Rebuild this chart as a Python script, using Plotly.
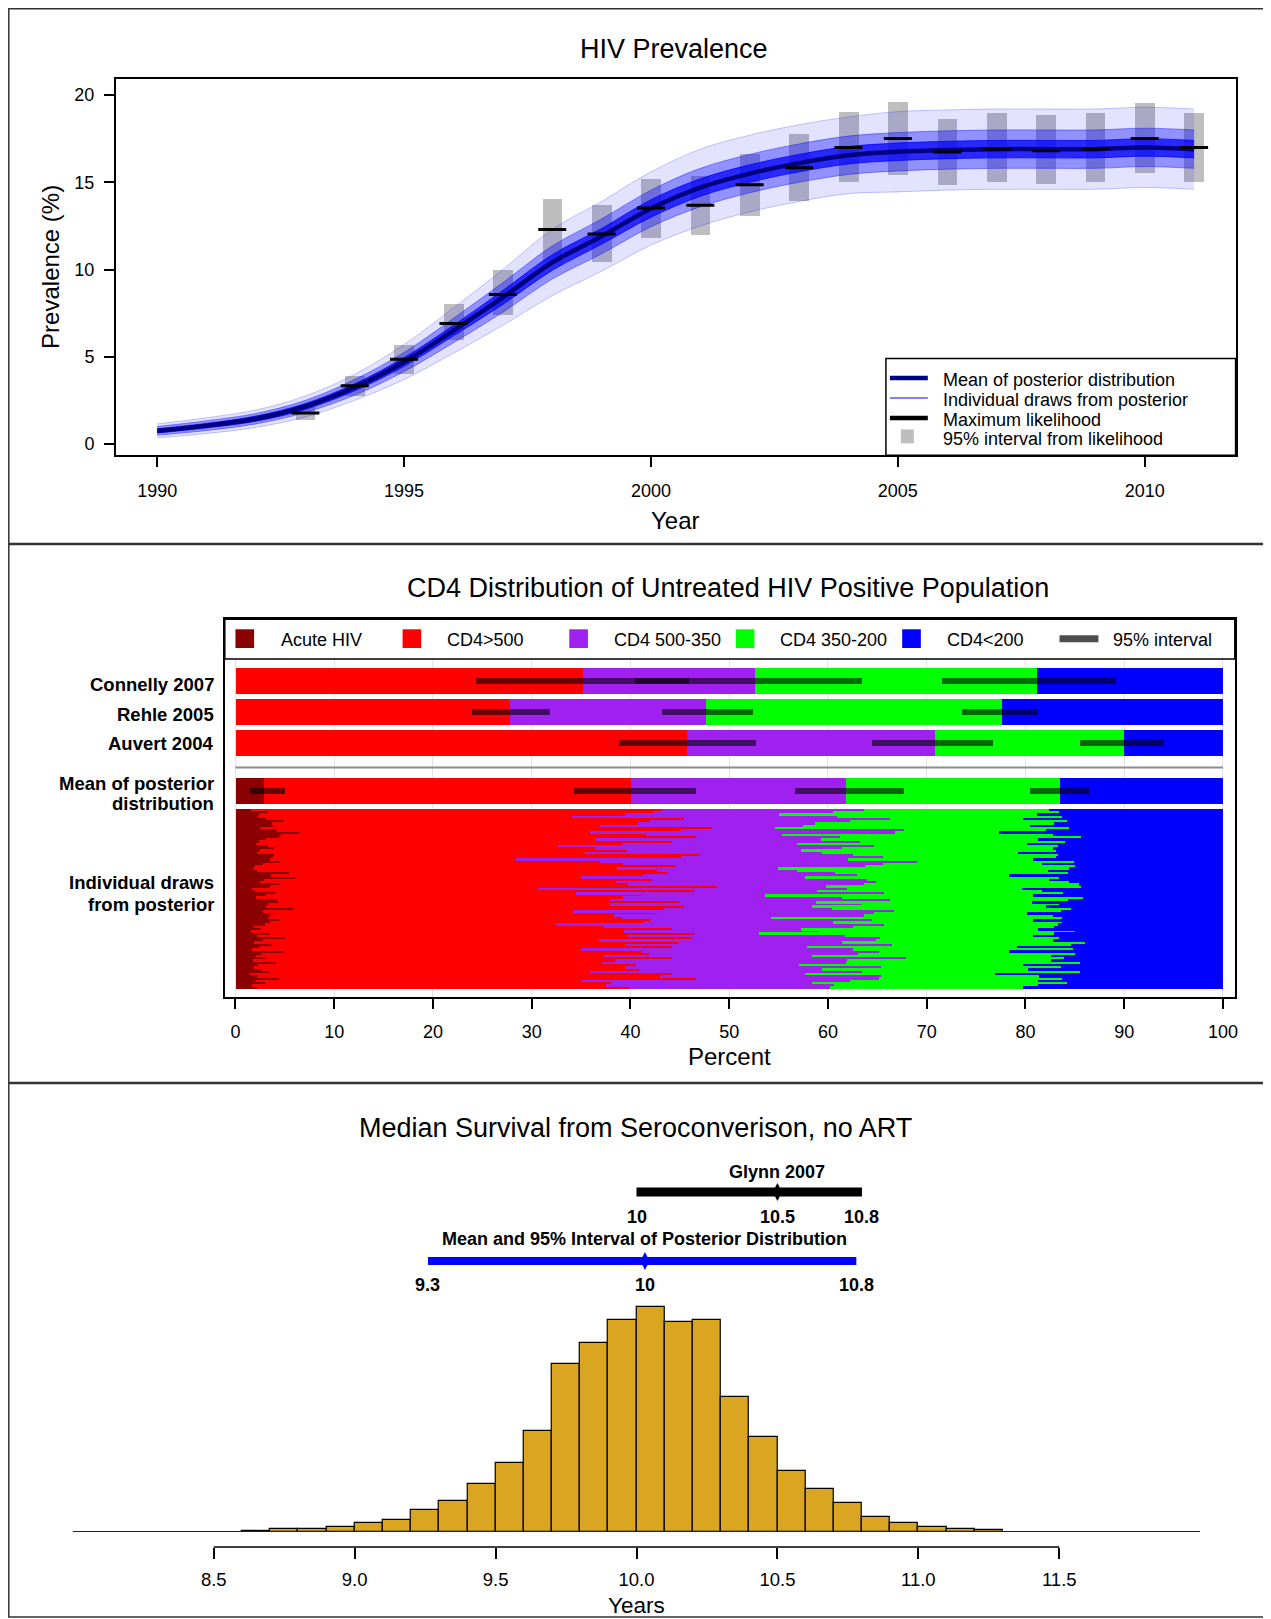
import plotly.graph_objects as go

# page offset (browser body margin) and figure size
OX, OY = 8, 8
W, H = 1263, 1611
FONT = "Liberation Sans, Arial, sans-serif"


def px(x):
    return (x - OX) / W


def py(y):
    return 1 - (y - OY) / H


# ---------------- Panel 1: HIV prevalence ----------------
years = list(range(1990, 2012))
post_mean = [0.75, 1.05, 1.45, 2.15, 3.25, 4.7, 6.5, 8.4, 10.4, 11.9, 13.5, 14.7,
             15.5, 16.1, 16.55, 16.75, 16.85, 16.9, 16.9, 16.9, 17.0, 16.9]
draws_outer_lo = [0.35, 0.6, 0.95, 1.55, 2.5, 3.7, 5.2, 6.8, 8.5, 9.9, 11.4, 12.5,
                  13.3, 13.9, 14.35, 14.45, 14.55, 14.6, 14.6, 14.6, 14.7, 14.6]
draws_outer_hi = [1.15, 1.5, 1.95, 2.75, 4.0, 5.7, 7.8, 10.0, 12.3, 13.9, 15.6, 16.9,
                  17.7, 18.3, 18.75, 19.05, 19.15, 19.2, 19.2, 19.2, 19.3, 19.2]
draws_mid_lo = [0.5, 0.77, 1.15, 1.8, 2.8, 4.15, 5.8, 7.55, 9.45, 10.9, 12.45, 13.6,
                14.4, 15.0, 15.45, 15.65, 15.75, 15.8, 15.8, 15.8, 15.9, 15.8]
draws_mid_hi = [1.0, 1.33, 1.75, 2.5, 3.7, 5.25, 7.2, 9.25, 11.35, 12.9, 14.55, 15.8,
                16.6, 17.2, 17.65, 17.85, 17.95, 18.0, 18.0, 18.0, 18.1, 18.0]
draws_inner_lo = [0.63, 0.92, 1.3, 1.98, 3.05, 4.45, 6.2, 8.0, 9.95, 11.45, 13.0, 14.2,
                  15.0, 15.6, 16.05, 16.25, 16.35, 16.4, 16.4, 16.4, 16.5, 16.4]
draws_inner_hi = [0.87, 1.18, 1.6, 2.32, 3.45, 4.95, 6.8, 8.8, 10.85, 12.35, 14.0, 15.2,
                  16.0, 16.6, 17.05, 17.25, 17.35, 17.4, 17.4, 17.4, 17.5, 17.4]

obs_years = [1993, 1994, 1995, 1996, 1997, 1998, 1999, 2000, 2001, 2002, 2003, 2004,
             2005, 2006, 2007, 2008, 2009, 2010, 2011]
obs_ml = [1.78, 3.33, 4.86, 6.9, 8.57, 12.29, 12.03, 13.53, 13.69, 14.86, 15.84, 17.0,
          17.51, 16.73, 16.91, 16.81, 16.91, 17.51, 17.0]
obs_lo = [1.42, 2.79, 4.05, 5.96, 7.41, 10.48, 10.46, 11.83, 12.03, 13.09, 13.97, 15.06,
          15.46, 14.86, 15.04, 14.94, 15.04, 15.54, 15.04]
obs_hi = [2.14, 3.95, 5.70, 8.05, 10.02, 14.06, 13.75, 15.24, 15.4, 16.67, 17.79, 19.05,
          19.64, 18.68, 18.98, 18.88, 18.98, 19.56, 18.98]

prev_legend = ["Mean of posterior distribution", "Individual draws from posterior",
               "Maximum likelihood", "95% interval from likelihood"]

# ---------------- Panel 2: CD4 distribution ----------------
cd4_names = ["Acute HIV", "CD4>500", "CD4 500-350", "CD4 350-200", "CD4<200"]
cd4_colors = ["#8B0000", "#FF0000", "#A020F0", "#00FF00", "#0000FF"]
study_names = ["Connelly 2007", "Rehle 2005", "Auvert 2004"]
study_gt500_end = [35.2, 27.8, 45.7]
study_500_350_end = [52.6, 47.65, 70.8]
study_350_200_end = [81.1, 77.6, 90.0]
study_ci_lo = [[24.3, 40.4, 71.5], [23.9, 43.2, 73.6], [38.8, 64.4, 85.5]]
study_ci_hi = [[45.9, 63.4, 89.1], [31.8, 52.4, 81.3], [52.7, 76.7, 94.0]]
mean_ends = [2.9, 40.0, 61.8, 83.45]
mean_ci_lo = [1.5, 34.3, 56.6, 80.4]
mean_ci_hi = [5.0, 46.6, 67.7, 86.4]

draw_acute_end = [1.6, 3.3, 2.4, 2.3, 3.1, 4.8, 3.7, 3.9, 2.5, 4.2,
                  6.4, 4.6, 4.4, 3.1, 2.4, 2.1, 3.2, 3.9, 2.5, 2.2,
                  3.9, 3.8, 3.5, 4.5, 2.8, 2.0, 1.8, 2.2, 5.4, 3.6,
                  6.1, 2.9, 2.5, 4.5, 3.5, 1.7, 2.0, 4.0, 3.1, 2.1,
                  4.3, 4.3, 3.3, 3.1, 5.8, 2.8, 4.0, 3.5, 3.3, 4.5,
                  3.5, 3.0, 1.9, 2.6, 1.6, 3.4, 2.2, 5.0, 2.8, 1.9,
                  3.7, 2.4, 1.7, 4.9, 2.6, 2.1, 3.0, 1.8, 4.1, 2.3,
                  1.9, 2.7, 3.5, 1.5, 2.2, 4.4, 2.0, 3.0, 1.7, 2.2]
draw_gt500_end = [43.2, 42.3, 39.4, 34.1, 45.4, 42.0, 40.7, 36.9, 48.2, 45.1,
                  35.9, 41.6, 46.6, 36.4, 44.2, 39.1, 32.6, 36.4, 39.6, 35.4,
                  47.0, 45.1, 28.4, 36.9, 39.2, 44.5, 38.6, 42.7, 43.8, 41.2,
                  35.0, 42.2, 38.5, 39.7, 48.7, 30.6, 46.4, 34.5, 41.0, 39.2,
                  37.9, 44.9, 37.9, 45.4, 43.4, 34.2, 42.8, 38.3, 39.1, 42.1,
                  41.2, 32.4, 37.3, 44.2, 39.3, 46.4, 39.6, 46.1, 36.8, 44.9,
                  39.4, 44.2, 35.0, 41.1, 42.0, 37.3, 44.2, 38.4, 37.1, 40.5,
                  39.4, 40.8, 35.9, 44.2, 43.0, 46.6, 35.0, 38.0, 37.5, 39.9]
draw_500_350_end = [63.6, 60.5, 55.0, 60.9, 66.3, 62.2, 58.7, 57.5, 54.6, 67.7,
                    66.8, 55.3, 61.2, 59.3, 63.2, 56.8, 64.6, 61.4, 57.3, 59.4,
                    62.5, 65.6, 62.0, 69.0, 65.6, 63.7, 54.9, 56.8, 60.7, 62.9,
                    57.7, 63.9, 64.8, 63.6, 59.8, 61.9, 58.9, 65.7, 53.6, 61.4,
                    66.3, 58.8, 63.4, 58.4, 60.4, 66.7, 64.6, 63.6, 54.2, 64.4,
                    60.5, 65.7, 62.5, 57.2, 59.1, 53.0, 61.7, 65.3, 64.8, 61.4,
                    66.5, 57.9, 62.5, 65.1, 63.0, 58.4, 67.9, 61.9, 61.8, 57.0,
                    65.4, 59.4, 63.4, 57.7, 65.4, 65.1, 62.2, 58.4, 60.6, 60.2]
draw_350_200_end = [82.4, 83.4, 81.1, 83.7, 79.7, 84.2, 82.9, 80.4, 84.4, 82.1,
                    77.3, 82.8, 85.6, 81.2, 84.0, 80.1, 83.3, 82.8, 83.1, 79.2,
                    83.3, 83.1, 80.7, 84.9, 81.7, 85.0, 84.4, 82.3, 84.3, 78.3,
                    83.4, 82.4, 84.4, 85.4, 85.6, 79.6, 81.7, 83.8, 80.7, 85.8,
                    84.3, 80.6, 83.4, 82.1, 84.6, 83.6, 80.1, 82.8, 83.7, 80.7,
                    83.7, 83.3, 82.9, 81.2, 85.0, 82.9, 80.7, 83.4, 82.8, 86.0,
                    84.6, 79.1, 84.8, 78.3, 85.0, 82.6, 83.9, 82.6, 85.5, 79.7,
                    83.6, 80.2, 85.5, 76.9, 81.4, 83.7, 81.2, 84.2, 81.2, 79.7]
row_labels = ["Connelly 2007", "Rehle 2005", "Auvert 2004",
              "Mean of posterior", "distribution", "Individual draws", "from posterior"]

# ---------------- Panel 3: median survival ----------------
hist_bin_start = [8.6, 8.7, 8.8, 8.9, 9.0, 9.1, 9.2, 9.3, 9.4, 9.5, 9.6, 9.7, 9.8, 9.9,
                  10.0, 10.1, 10.2, 10.3, 10.4, 10.5, 10.6, 10.7, 10.8, 10.9, 11.0, 11.1, 11.2]
hist_counts = [3, 7, 7, 11, 18, 25, 45, 62, 97, 138, 203, 337, 378, 425,
               450, 421, 425, 271, 190, 123, 86, 59, 31, 18, 11, 7, 5]
hist_bin_width = 0.1
glynn = {"lo": 10.0, "mid": 10.5, "hi": 10.8, "labels": ["10", "10.5", "10.8"]}
posterior = {"lo": 9.26, "mid": 10.03, "hi": 10.78, "labels": ["9.3", "10", "10.8"]}
years_ticks = [8.5, 9.0, 9.5, 10.0, 10.5, 11.0, 11.5]

fig = go.Figure()

# ---- panel 1 traces ----
fig.add_trace(go.Bar(x=obs_years, y=[h - l for h, l in zip(obs_hi, obs_lo)], base=obs_lo,
                     width=0.4, marker=dict(color="#BEBEBE", line=dict(width=0)),
                     xaxis="x", yaxis="y", showlegend=False))
bands = [(draws_outer_lo, draws_outer_hi, "rgba(0,0,255,0.11)", "rgba(0,0,255,0.22)"),
         (draws_mid_lo, draws_mid_hi, "rgba(0,0,255,0.36)", "rgba(0,0,255,0.4)"),
         (draws_inner_lo, draws_inner_hi, "rgba(0,0,255,0.72)", "rgba(0,0,255,0.75)")]
for lo, hi, fc, lc in bands:
    fig.add_trace(go.Scatter(x=years, y=lo, mode="lines", line=dict(color=lc, width=1, shape="spline"),
                             xaxis="x", yaxis="y", showlegend=False, hoverinfo="skip"))
    fig.add_trace(go.Scatter(x=years, y=hi, mode="lines", fill="tonexty", fillcolor=fc,
                             line=dict(color=lc, width=1, shape="spline"),
                             xaxis="x", yaxis="y", showlegend=False, hoverinfo="skip"))
fig.add_trace(go.Scatter(x=years, y=post_mean, mode="lines",
                         line=dict(color="#000080", width=4.5, shape="spline"),
                         xaxis="x", yaxis="y", showlegend=False))
fig.add_trace(go.Scatter(x=obs_years, y=obs_ml, mode="markers",
                         marker=dict(symbol="line-ew", size=20, line=dict(width=3, color="black")),
                         xaxis="x", yaxis="y", showlegend=False))

# ---- panel 2 traces ----
STUDY_Y = [0, 1, 2]
BAR_W = 0.83
MEAN_Y = 3.55
DRAW_TOP, DRAW_BOT = 4.13, 9.93
CI_W = 0.21

rows = []
for i in range(len(study_names)):
    rows.append((STUDY_Y[i], BAR_W, [0, 0, study_gt500_end[i], study_500_350_end[i],
                                     study_350_200_end[i], 100]))
rows.append((MEAN_Y, BAR_W, [0] + mean_ends + [100]))
n_draws = len(draw_acute_end)
pitch = (DRAW_BOT - DRAW_TOP) / n_draws
for j in range(n_draws):
    rows.append((DRAW_TOP + (j + 0.5) * pitch, pitch * 1.15,
                 [0, draw_acute_end[j], draw_gt500_end[j], draw_500_350_end[j],
                  draw_350_200_end[j], 100]))

for k in range(5):
    ys, bs, ls, ws = [], [], [], []
    for y, w, b in rows:
        if b[k + 1] - b[k] > 0:
            ys.append(y)
            bs.append(b[k])
            ls.append(b[k + 1] - b[k])
            ws.append(w)
    fig.add_trace(go.Bar(y=ys, x=ls, base=bs, width=ws, orientation="h", name=cd4_names[k],
                         marker=dict(color=cd4_colors[k], line=dict(width=0)),
                         xaxis="x2", yaxis="y2", showlegend=False))

ci_y, ci_b, ci_l = [], [], []
for i in range(len(study_names)):
    for lo, hi in zip(study_ci_lo[i], study_ci_hi[i]):
        ci_y.append(STUDY_Y[i]); ci_b.append(lo); ci_l.append(hi - lo)
for lo, hi in zip(mean_ci_lo, mean_ci_hi):
    ci_y.append(MEAN_Y); ci_b.append(lo); ci_l.append(hi - lo)
fig.add_trace(go.Bar(y=ci_y, x=ci_l, base=ci_b, width=CI_W, orientation="h",
                     marker=dict(color="rgba(0,0,0,0.58)", line=dict(width=0)),
                     xaxis="x2", yaxis="y2", showlegend=False, name="95% interval"))

# ---- panel 3 traces ----
fig.add_trace(go.Bar(x=hist_bin_start, y=hist_counts, width=hist_bin_width, offset=0,
                     marker=dict(color="#DAA520", line=dict(color="black", width=1.2)),
                     xaxis="x3", yaxis="y3", showlegend=False))
for d, yv, col, lw in [(glynn, 2, "black", 9), (posterior, 1, "#0000FF", 8)]:
    fig.add_trace(go.Scatter(x=[d["lo"], d["hi"]], y=[yv, yv], mode="lines",
                             line=dict(color=col, width=lw), xaxis="x3", yaxis="y4",
                             showlegend=False))
    fig.add_trace(go.Scatter(x=[d["mid"]], y=[yv], mode="markers",
                             marker=dict(symbol="diamond-tall", size=13, color=col),
                             xaxis="x3", yaxis="y4", showlegend=False))

axis_common = dict(showgrid=False, zeroline=False, ticks="outside", tickwidth=1.5,
                   tickcolor="black", linecolor="black", linewidth=1.5,
                   tickfont=dict(family=FONT, size=18, color="black"))

fig.update_layout(
    width=W, height=H, margin=dict(l=0, r=0, t=0, b=0),
    paper_bgcolor="white", plot_bgcolor="white", barmode="overlay", bargap=0,
    font=dict(family=FONT, color="black"),
    xaxis=dict(domain=[px(116), px(1238.5)], range=[1989.16, 2011.84], anchor="y",
               tickvals=[1990, 1995, 2000, 2005, 2010], ticklen=10, showline=True,
               mirror=True, ticklabelstandoff=8, **axis_common),
    yaxis=dict(domain=[py(455.3), py(78.5)], range=[-0.65, 20.95], anchor="x",
               tickvals=[0, 5, 10, 15, 20], ticklen=10, showline=True, mirror=True,
               ticklabelstandoff=6, **axis_common),
    xaxis2=dict(domain=[px(225.3), px(1237.7)], range=[-1.08, 101.2], anchor="y2",
                tickvals=list(range(0, 101, 10)), ticklen=10, showline=True, mirror=True,
                ticklabelstandoff=8,
                **{**axis_common, "showgrid": True}, gridcolor="#E3E3E3", gridwidth=1),
    yaxis2=dict(domain=[py(997), py(619.3)], range=[10.187, -2.006], anchor="x2",
                showticklabels=False, ticks="", showline=True, mirror=True,
                linecolor="black", linewidth=1.5, showgrid=False, zeroline=False),
    xaxis3=dict(domain=[px(73), px(1203)], range=[8, 12], anchor="free", position=py(1547),
                tickvals=years_ticks, ticktext=[f"{v:.1f}" for v in years_ticks],
                ticklen=11, showline=False, ticklabelstandoff=5,
                **{**axis_common, "tickfont": dict(family=FONT, size=18.5, color="black")}),
    yaxis3=dict(domain=[py(1532), py(1300)], range=[0, 464], anchor="x3", visible=False),
    yaxis4=dict(domain=[py(1300), py(1150)], range=[0.435, 2.609], anchor="x3", visible=False),
)

shapes = []
# panel frames
for top, bot in [(8.8, 543.5), (544.5, 1082.5), (1083.5, 1617)]:
    shapes.append(dict(type="rect", xref="paper", yref="paper", x0=px(8.8), x1=px(1269),
                       y0=py(bot), y1=py(top), line=dict(color="#333333", width=1.5)))
# top legend
shapes.append(dict(type="rect", xref="paper", yref="paper", x0=px(888), x1=px(1238.5),
                   y0=py(455.3), y1=py(358.6), fillcolor="white",
                   line=dict(color="black", width=1.5), layer="above"))
leg_rows = [378, 398, 418, 437]
for yrow, col, lw in [(leg_rows[0], "#000080", 4.5), (leg_rows[1], "#0000FF", 1),
                      (leg_rows[2], "black", 4.5)]:
    shapes.append(dict(type="line", xref="paper", yref="paper", x0=px(892), x1=px(930),
                       y0=py(yrow), y1=py(yrow), line=dict(color=col, width=lw), layer="above"))
shapes.append(dict(type="rect", xref="paper", yref="paper", x0=px(903), x1=px(916),
                   y0=py(443.4), y1=py(429.4), fillcolor="#BEBEBE", line=dict(width=0),
                   layer="above"))
# middle legend
shapes.append(dict(type="rect", xref="paper", yref="paper", x0=px(225.3), x1=px(1237.7),
                   y0=py(659), y1=py(619.3), fillcolor="white",
                   line=dict(color="black", width=1.5), layer="above"))
sq_x = [236, 403.5, 570.6, 737.5, 904.3]
for xs, col in zip(sq_x, cd4_colors):
    shapes.append(dict(type="rect", xref="paper", yref="paper", x0=px(xs), x1=px(xs + 18.7),
                       y0=py(648), y1=py(629.3), fillcolor=col, line=dict(width=0),
                       layer="above"))
shapes.append(dict(type="line", xref="paper", yref="paper", x0=px(1062), x1=px(1101),
                   y0=py(638.7), y1=py(638.7), line=dict(color="#4D4D4D", width=7),
                   layer="above"))
# middle separator between studies and model
shapes.append(dict(type="line", xref="x2", yref="y2", x0=0, x1=100,
                   y0=(STUDY_Y[-1] + MEAN_Y) / 2, y1=(STUDY_Y[-1] + MEAN_Y) / 2,
                   line=dict(color="#8C8C8C", width=2)))
# histogram baseline and axis line
shapes.append(dict(type="line", xref="x3", yref="y3", x0=8, x1=12, y0=0, y1=0,
                   line=dict(color="#222222", width=2)))
shapes.append(dict(type="line", xref="x3", yref="paper", x0=years_ticks[0], x1=years_ticks[-1],
                   y0=py(1547), y1=py(1547), line=dict(color="black", width=1.5)))

ann = []


def text(x, y, s, size, xanchor="center", bold=False, xref="paper", angle=0):
    ann.append(dict(x=x if xref != "paper" else px(x), y=py(y), xref=xref, yref="paper",
                    text=f"<b>{s}</b>" if bold else s, showarrow=False,
                    xanchor=xanchor, yanchor="middle", textangle=angle,
                    font=dict(family=FONT, size=size, color="black")))


text(676, 49, "HIV Prevalence", 27)
text(677, 521, "Year", 24)
text(50, 267, "Prevalence (%)", 24, angle=-90)
for yrow, s in zip([380, 400, 420, 439], prev_legend):
    text(943, yrow, s, 18, xanchor="left")

text(730, 588, "CD4 Distribution of Untreated HIV Positive Population", 27)
text(731, 1056, "Percent", 24)
for xs, s in zip([279.6, 445.7, 613.5, 780.2, 947.6, 1114], cd4_names + ["95% interval"]):
    text(xs, 640, s, 18, xanchor="left")
for yv, s in zip([684, 714, 744, 783, 803, 882, 904], row_labels):
    text(216.5, yv, s, 18.5, xanchor="right", bold=True)

text(637, 1128, "Median Survival from Seroconverison, no ART", 27)
text(638, 1605, "Years", 22.5)
text(glynn["mid"], 1172, "Glynn 2007", 18, bold=True, xref="x3")
for v, s in zip([glynn["lo"], glynn["mid"], glynn["hi"]], glynn["labels"]):
    text(v, 1217, s, 18, bold=True, xref="x3")
text(posterior["mid"], 1239, "Mean and 95% Interval of Posterior Distribution", 18,
     bold=True, xref="x3")
for v, s in zip([posterior["lo"], posterior["mid"], posterior["hi"]], posterior["labels"]):
    text(v, 1285, s, 18, bold=True, xref="x3")

fig.update_layout(shapes=shapes, annotations=ann)
fig.write_html("out.html")
